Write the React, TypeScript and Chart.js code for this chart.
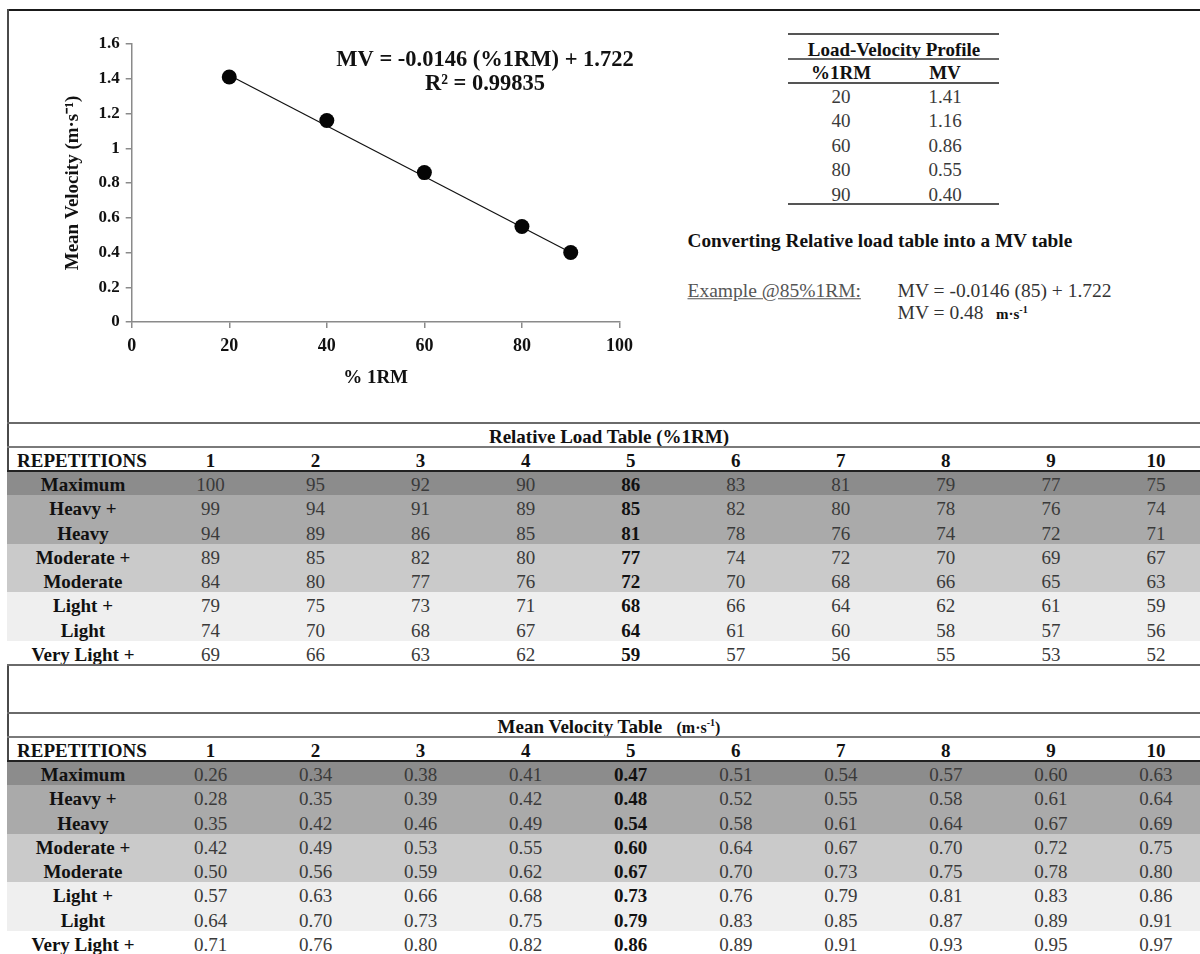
import React, { useEffect, useRef } from "react";
import { Chart, registerables } from "chart.js";

Chart.register(...registerables);

// ---------- data ----------
const loadPct = [20, 40, 60, 80, 90];
const meanVel = [1.41, 1.16, 0.86, 0.55, 0.4];
const trendPct = [20, 90];
const trendVel = [1.42, 0.4];
const xTicks = [0, 20, 40, 60, 80, 100];
const yTicks = [0, 0.2, 0.4, 0.6, 0.8, 1, 1.2, 1.4, 1.6];
const yTickLabels = ["0", "0.2", "0.4", "0.6", "0.8", "1", "1.2", "1.4", "1.6"];
const eqLine1 = "MV = -0.0146 (%1RM) + 1.722";
const eqLine2 = "R\u00B2 = 0.99835";

const profilePct = ["20", "40", "60", "80", "90"];
const profileMV = ["1.41", "1.16", "0.86", "0.55", "0.40"];

const repetitions = ["1", "2", "3", "4", "5", "6", "7", "8", "9", "10"];
const intensityLevels = [
  "Maximum",
  "Heavy +",
  "Heavy",
  "Moderate +",
  "Moderate",
  "Light +",
  "Light",
  "Very Light +",
];
const relLoadRows = [
  ["100", "95", "92", "90", "86", "83", "81", "79", "77", "75"],
  ["99", "94", "91", "89", "85", "82", "80", "78", "76", "74"],
  ["94", "89", "86", "85", "81", "78", "76", "74", "72", "71"],
  ["89", "85", "82", "80", "77", "74", "72", "70", "69", "67"],
  ["84", "80", "77", "76", "72", "70", "68", "66", "65", "63"],
  ["79", "75", "73", "71", "68", "66", "64", "62", "61", "59"],
  ["74", "70", "68", "67", "64", "61", "60", "58", "57", "56"],
  ["69", "66", "63", "62", "59", "57", "56", "55", "53", "52"],
];
const mvRows = [
  ["0.26", "0.34", "0.38", "0.41", "0.47", "0.51", "0.54", "0.57", "0.60", "0.63"],
  ["0.28", "0.35", "0.39", "0.42", "0.48", "0.52", "0.55", "0.58", "0.61", "0.64"],
  ["0.35", "0.42", "0.46", "0.49", "0.54", "0.58", "0.61", "0.64", "0.67", "0.69"],
  ["0.42", "0.49", "0.53", "0.55", "0.60", "0.64", "0.67", "0.70", "0.72", "0.75"],
  ["0.50", "0.56", "0.59", "0.62", "0.67", "0.70", "0.73", "0.75", "0.78", "0.80"],
  ["0.57", "0.63", "0.66", "0.68", "0.73", "0.76", "0.79", "0.81", "0.83", "0.86"],
  ["0.64", "0.70", "0.73", "0.75", "0.79", "0.83", "0.85", "0.87", "0.89", "0.91"],
  ["0.71", "0.76", "0.80", "0.82", "0.86", "0.89", "0.91", "0.93", "0.95", "0.97"],
];

// ---------- styles ----------
const FONT = '"Liberation Serif", "Times New Roman", Times, serif';
const bandShades = ["#8c8c8c", "#aaaaaa", "#aaaaaa", "#cacaca", "#cacaca", "#efefef", "#efefef", "#ffffff"];
const ROW_H = 24.25;
const TABLE_FS = 19;
const colX = (i: number) => 210.5 + i * 105.05;

type TxtProps = {
  x: number;
  y: number;
  align?: "left" | "center" | "right";
  size?: number;
  bold?: boolean;
  color?: string;
  style?: React.CSSProperties;
  children: React.ReactNode;
};

const Txt = ({ x, y, align = "center", size = TABLE_FS, bold = false, color = "#111", style, children }: TxtProps) => (
  <div
    style={{
      position: "absolute",
      left: x,
      top: y,
      transform: `translate(${align === "center" ? "-50%" : align === "right" ? "-100%" : "0"}, -50%)`,
      fontSize: size,
      lineHeight: 1,
      fontWeight: bold ? 700 : 400,
      color,
      whiteSpace: "nowrap",
      fontFamily: FONT,
      ...style,
    }}
  >
    {children}
  </div>
);

const Rule = ({ y, x = 7, w = 1193, h = 2, color = "#666" }: { y: number; x?: number; w?: number; h?: number; color?: string }) => (
  <div style={{ position: "absolute", left: x, top: y - h / 2, width: w, height: h, background: color }} />
);

const DataTable = ({ top, title, rows }: { top: number; title: React.ReactNode; rows: string[][] }) => {
  const rowsTop = top + 48;
  return (
    <>
      {rows.map((_, r) => (
        <div
          key={"b" + r}
          style={{
            position: "absolute",
            left: 7,
            top: rowsTop + r * ROW_H,
            width: 1193,
            height: ROW_H + 0.5,
            background: bandShades[r],
          }}
        />
      ))}
      <Rule y={top} color="#6a6a6a" />
      <Txt x={609} y={top + 12.5} bold>
        {title}
      </Txt>
      <Rule y={top + 24} color="#7a7a7a" />
      <Txt x={17} y={top + 36.5} align="left" bold>
        REPETITIONS
      </Txt>
      {repetitions.map((rep, i) => (
        <Txt key={"h" + i} x={colX(i)} y={top + 36.5} bold>
          {rep}
        </Txt>
      ))}
      <Rule y={top + 48} color="#222" />
      {rows.map((row, r) => {
        const cy = rowsTop + r * ROW_H + ROW_H / 2 + 1;
        return (
          <React.Fragment key={"r" + r}>
            <Txt x={83} y={cy} bold>
              {intensityLevels[r]}
            </Txt>
            {row.map((v, i) => (
              <Txt key={i} x={colX(i)} y={cy} bold={i === 4} color={i === 4 ? "#111" : "#3a3a3a"}>
                {v}
              </Txt>
            ))}
          </React.Fragment>
        );
      })}
      <Rule y={rowsTop + rows.length * ROW_H} color="#6a6a6a" />
    </>
  );
};

const equationPlugin = {
  id: "equationText",
  afterDraw(chart: any) {
    const ctx = chart.ctx;
    ctx.save();
    ctx.font = `bold 22.5px ${FONT}`;
    ctx.fillStyle = "#111";
    ctx.textAlign = "center";
    ctx.textBaseline = "alphabetic";
    ctx.fillText(eqLine1, 485, 66);
    ctx.fillText(eqLine2, 485, 90);
    ctx.restore();
  },
};

const ScatterChart = () => {
  const ref = useRef<HTMLCanvasElement | null>(null);
  useEffect(() => {
    if (!ref.current) return;
    const axisColor = "#8a8a8a";
    const chart = new Chart(ref.current, {
      type: "scatter",
      data: {
        datasets: [
          {
            label: "Trend",
            data: trendPct.map((x, i) => ({ x, y: trendVel[i] })),
            showLine: true,
            borderColor: "#111",
            borderWidth: 1.2,
            pointRadius: 0,
            pointHoverRadius: 0,
            order: 2,
          },
          {
            label: "Mean Velocity",
            data: loadPct.map((x, i) => ({ x, y: meanVel[i] })),
            pointRadius: 7.5,
            pointHoverRadius: 7.5,
            pointBackgroundColor: "#050505",
            pointBorderColor: "#050505",
            pointBorderWidth: 0,
            order: 1,
          },
        ],
      },
      options: {
        responsive: false,
        animation: false,
        devicePixelRatio: 1,
        events: [],
        layout: { padding: { left: 0, top: 44, right: 40.5, bottom: 0 } },
        plugins: { legend: { display: false }, tooltip: { enabled: false } },
        scales: {
          x: {
            type: "linear",
            min: 0,
            max: 100,
            afterFit: (s: any) => {
              s.height = 88;
            },
            afterBuildTicks: (s: any) => {
              s.ticks = xTicks.map((v) => ({ value: v }));
            },
            grid: { drawOnChartArea: false, tickLength: 6, color: axisColor, lineWidth: 1.5 },
            border: { color: axisColor, width: 1.5 },
            ticks: {
              font: { family: FONT, size: 18, weight: "bold" },
              color: "#111",
              padding: 8,
              maxRotation: 0,
            },
            title: {
              display: true,
              text: "% 1RM",
              font: { family: FONT, size: 19, weight: "bold" },
              color: "#111",
              padding: { top: 0, bottom: 21 },
            },
          },
          y: {
            type: "linear",
            min: 0,
            max: 1.6,
            afterFit: (s: any) => {
              s.width = 131.7;
            },
            afterBuildTicks: (s: any) => {
              s.ticks = yTicks.map((v) => ({ value: v }));
            },
            grid: { drawOnChartArea: false, tickLength: 6, color: axisColor, lineWidth: 1.5 },
            border: { color: axisColor, width: 1.5 },
            ticks: {
              font: { family: FONT, size: 17, weight: "bold" },
              color: "#111",
              padding: 6,
              callback: (_v: any, i: number) => yTickLabels[i],
            },
            title: {
              display: true,
              text: "Mean Velocity (m\u00B7s\u207B\u00B9)",
              font: { family: FONT, size: 19, weight: "bold" },
              color: "#111",
              padding: { top: 62, bottom: 0 },
            },
          },
        },
      },
      plugins: [equationPlugin],
    } as any);
    return () => chart.destroy();
  }, []);
  return (
    <canvas
      ref={ref}
      width={660}
      height={410}
      style={{ position: "absolute", left: 0, top: 0, width: 660, height: 410 }}
    />
  );
};

export default function App() {
  return (
    <div
      style={{
        position: "absolute",
        left: 0,
        top: 0,
        width: 1200,
        height: 954,
        overflow: "hidden",
        background: "#fff",
        fontFamily: FONT,
      }}
    >
      {/* frame */}
      <div style={{ position: "absolute", left: 7, top: 9, width: 1193, height: 2, background: "#1a1a1a" }} />
      <div style={{ position: "absolute", left: 6.5, top: 9, width: 2, height: 945, background: "#4a4a4a" }} />

      <ScatterChart />

      {/* Load-Velocity profile table */}
      <Rule x={788} w={211} y={34} color="#555" />
      <Txt x={894} y={49} bold>
        Load-Velocity Profile
      </Txt>
      <Rule x={788} w={211} y={59} color="#666" />
      <Txt x={841} y={72} bold>
        %1RM
      </Txt>
      <Txt x={945} y={72} bold>
        MV
      </Txt>
      <Rule x={788} w={211} y={83} color="#555" />
      {profilePct.map((p, i) => (
        <React.Fragment key={p}>
          <Txt x={841} y={95.5 + i * 24.6} color="#3a3a3a">
            {p}
          </Txt>
          <Txt x={945} y={95.5 + i * 24.6} color="#3a3a3a">
            {profileMV[i]}
          </Txt>
        </React.Fragment>
      ))}
      <Rule x={788} w={211} y={204} color="#555" />

      <Txt x={687.5} y={241} align="left" bold size={19.3}>
        Converting Relative load table into a MV table
      </Txt>
      <Txt x={687.5} y={291} align="left" size={19.5} color="#555" style={{ textDecoration: "underline" }}>
        Example @85%1RM:
      </Txt>
      <Txt x={897.6} y={291} align="left" size={19.5} color="#333">
        MV = -0.0146 (85) + 1.722
      </Txt>
      <Txt x={897.6} y={313} align="left" size={19.5} color="#333">
        MV = 0.48
      </Txt>
      <Txt x={996} y={313} align="left" bold size={15}>
        m·s<sup style={{ fontSize: 10 }}>-1</sup>
      </Txt>

      <DataTable top={423} title="Relative Load Table (%1RM)" rows={relLoadRows} />
      <DataTable
        top={713}
        title={
          <>
            Mean Velocity Table{"\u00A0\u00A0\u00A0"}
            <span style={{ fontSize: 16 }}>
              (m·s<sup style={{ fontSize: 10 }}>-1</sup>)
            </span>
          </>
        }
        rows={mvRows}
      />
    </div>
  );
}
